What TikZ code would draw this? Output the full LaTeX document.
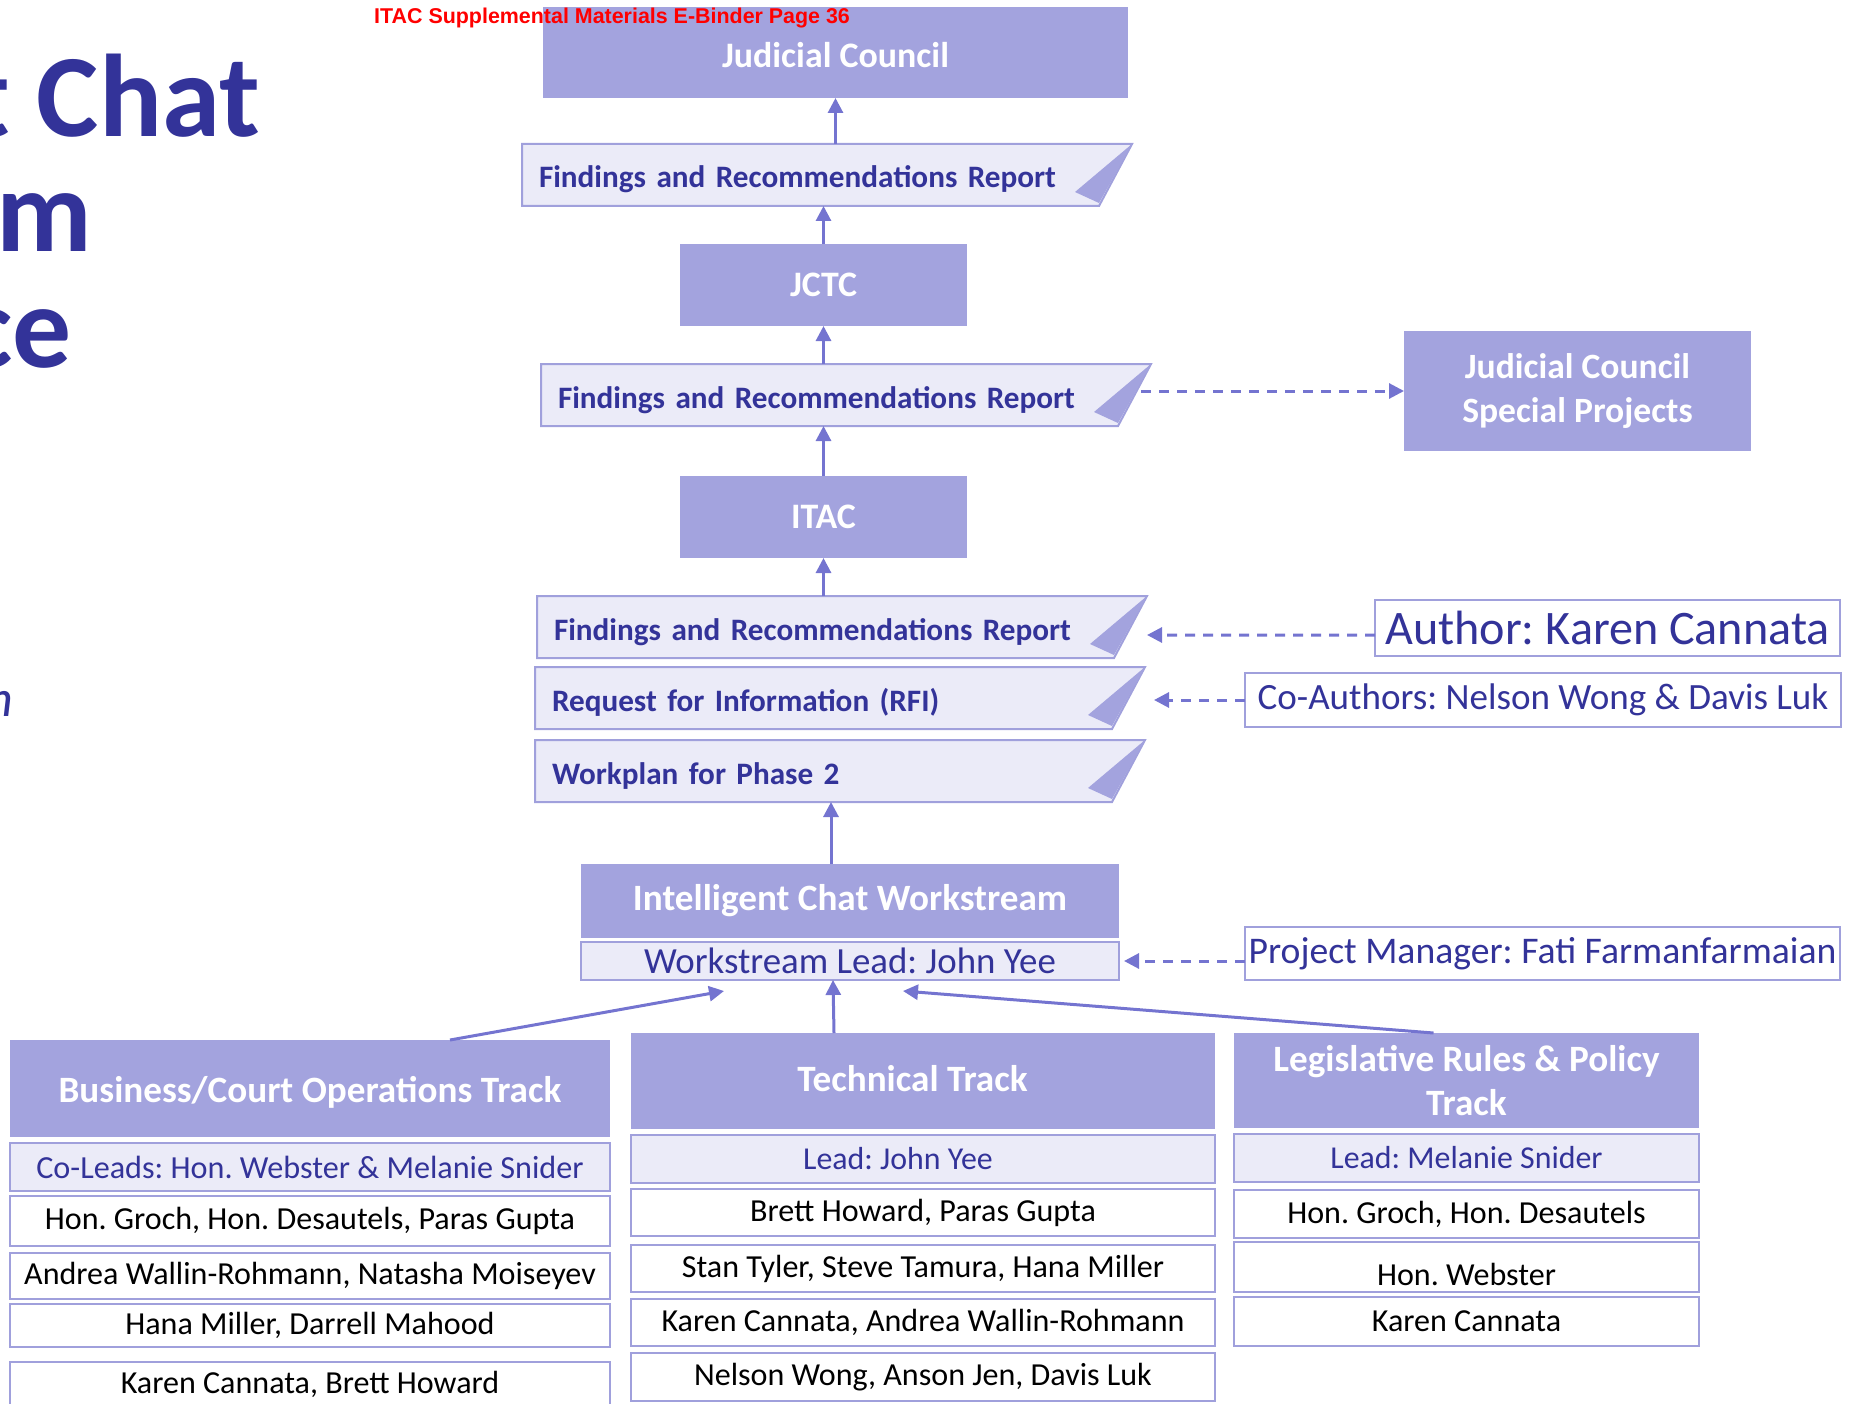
\documentclass[tikz,border=0pt]{standalone}
\usepackage{fontspec}
\setmainfont{Carlito}
\newfontfamily\stampfont{Liberation Sans}
\usetikzlibrary{arrows.meta, positioning, backgrounds}
\frenchspacing

\definecolor{headfill}{HTML}{A3A3DE}
\definecolor{lightfill}{HTML}{EBEBF8}
\definecolor{boxline}{HTML}{A0A0DC}
\definecolor{arrowline}{HTML}{7474D0}
\definecolor{navy}{HTML}{333399}

\tikzset{
  boxsize/.style 2 args = {minimum width = #1bp, minimum height = #2bp},
  header/.style = {rectangle, fill = headfill, text = white, inner sep = 0pt, outer sep = 0pt, anchor = north west, align = center, font = \bfseries\fontsize{36}{43}\selectfont},
  bigheader/.style = {header, font = \bfseries\fontsize{37.3}{45}\selectfont},
  report/.style = {rectangle, inner xsep = 17bp, inner ysep = 0pt, outer sep = 0pt, anchor = north west, minimum width = 577bp, minimum height = 62bp, text width = 543bp, text height = 26bp, text depth = 0bp, align = left, text = navy, font = \bfseries\fontsize{31.3}{37}\selectfont},
  leadbox/.style = {rectangle, draw = boxline, line width = 2.5bp, fill = lightfill, text = navy, inner sep = 0pt, outer sep = 0pt, anchor = north west, font = \fontsize{32}{38}\selectfont},
  member/.style = {rectangle, draw = boxline, line width = 2.5bp, fill = white, text = black, inner sep = 0pt, outer sep = 0pt, anchor = north west, font = \fontsize{32.2}{38}\selectfont},
  note/.style = {leadbox, fill = white},
  title/.style = {anchor = base east, inner sep = 0pt, text = navy, font = \bfseries\fontsize{118}{124}\selectfont},
  arrow/.style = {line width = 3bp, draw = arrowline, -{Triangle[length = 15bp, width = 15bp]}},
  dasharrow/.style = {arrow, dash pattern = on 10bp off 8bp},
}

\begin{document}
\begin{tikzpicture}[x = 1bp, y = -1bp]
    \useasboundingbox (0,0) rectangle (1858,1404);

    % slide title, cut at the left edge
    \node (title1)[title] at (260,137) {t Chat};
    \node (title2)[title] at (92,252) {m};
    \node (title3)[title] at (72,368) {ce};
    \node (subtitle)[anchor = base east, inner sep = 0pt, text = navy, font = \itshape\fontsize{52}{60}\selectfont] at (13,716) {h};

    % reporting chain
    \node (jc)[header, boxsize = {585}{91}, text height = 30bp] at (543,7) {Judicial Council};
    \node (rep1)[report] at (522,144) {Findings and Recommendations Report};
    \node (jctc)[header, boxsize = {287}{82}] at (680,244) {JCTC};
    \node (rep2)[report] at (541,364) {Findings and Recommendations Report};
    \node (itac)[header, boxsize = {287}{82}] at (680,476) {ITAC};
    \node (rep3)[report] at (537,596) {Findings and Recommendations Report};
    \node (rfi)[report] at (535,667) {Request for Information (RFI)};
    \node (plan)[report] at (535,740) {Workplan for Phase 2};
    \node (ws)[bigheader, boxsize = {538}{74}] at (581,864) {Intelligent Chat Workstream};
    \node (wslead)[leadbox, boxsize = {538}{38}, font = \fontsize{37}{42}\selectfont] at (581,942) {Workstream Lead: John Yee};

    % side boxes
    \node (jcsp)[header, boxsize = {347}{120}, font = \bfseries\fontsize{35.7}{44}\selectfont] at (1404,331) {Judicial Council\\Special Projects};
    \node (author)[note, boxsize = {465}{56}, font = \fontsize{48.3}{54}\selectfont] at (1375,600) {Author: Karen Cannata};
    \node (coauth)[note, boxsize = {596}{54}, font = \fontsize{37.2}{43}\selectfont] at (1245,673) {Co-Authors: Nelson Wong \& Davis Luk};
    \node (pm)[note, boxsize = {595}{53}, font = \fontsize{37.8}{43}\selectfont] at (1245,927) {Project Manager: Fati Farmanfarmaian};

    % business track
    \node (bus)[bigheader, boxsize = {600}{97}, text height = 34bp] at (10,1040) {Business/Court Operations Track};
    \node (buslead)[leadbox, boxsize = {600}{48}, font = \fontsize{32.3}{38}\selectfont, below = 6bp of bus.south west, anchor = north west] {Co-Leads: Hon. Webster \& Melanie Snider};
    \node (bus1)[member, boxsize = {600}{50}, below = 5bp of buslead.south west, anchor = north west] {Hon. Groch, Hon. Desautels, Paras Gupta};
    \node (bus2)[member, boxsize = {600}{46}, below = 7bp of bus1.south west, anchor = north west] {Andrea Wallin-Rohmann, Natasha Moiseyev};
    \node (bus3)[member, boxsize = {600}{43}, below = 5bp of bus2.south west, anchor = north west] {Hana Miller, Darrell Mahood};
    \node (bus4)[member, boxsize = {600}{44}, below = 15bp of bus3.south west, anchor = north west] {Karen Cannata, Brett Howard};

    % technical track
    \node (tech)[bigheader, boxsize = {584}{96}, text depth = 5bp] at (631,1033) {Technical Track\hspace*{21bp}};
    \node (techlead)[leadbox, boxsize = {584}{48}, below = 6bp of tech.south west, anchor = north west] {Lead: John Yee\hspace*{50bp}};
    \node (tech1)[member, boxsize = {584}{47}, below = 6bp of techlead.south west, anchor = north west] {Brett Howard, Paras Gupta};
    \node (tech2)[member, boxsize = {584}{47}, below = 9bp of tech1.south west, anchor = north west] {Stan Tyler, Steve Tamura, Hana Miller};
    \node (tech3)[member, boxsize = {584}{47}, below = 7bp of tech2.south west, anchor = north west] {Karen Cannata, Andrea Wallin-Rohmann};
    \node (tech4)[member, boxsize = {584}{48}, below = 7bp of tech3.south west, anchor = north west] {Nelson Wong, Anson Jen, Davis Luk};

    % legislative track
    \node (legis)[bigheader, boxsize = {465}{95}] at (1234,1033) {Legislative Rules \& Policy\\Track};
    \node (legislead)[leadbox, boxsize = {465}{48}, below = 6bp of legis.south west, anchor = north west] {Lead: Melanie Snider};
    \node (legis1)[member, boxsize = {465}{48}, below = 8bp of legislead.south west, anchor = north west] {Hon. Groch, Hon. Desautels};
    \node (legis2)[member, boxsize = {465}{50}, text height = 36bp, text depth = 0bp, below = 4bp of legis1.south west, anchor = north west] {Hon. Webster};
    \node (legis3)[member, boxsize = {465}{49}, below = 5bp of legis2.south west, anchor = north west] {Karen Cannata};

    % report sheets behind their labels
    \begin{scope}[on background layer]
        \foreach \n in {rep1, rep2, rep3, rfi, plan}{
            \filldraw[draw = boxline, fill = lightfill, line width = 2bp] (\n.north west) -- ([xshift = 33bp]\n.north east) -- (\n.south east) -- (\n.south west) -- cycle;
            \fill[headfill] ([xshift = 33bp]\n.north east) -- ([shift = {(-24bp,14bp)}]\n.south east) -- ([yshift = 3bp]\n.south east) -- cycle;
        }
    \end{scope}

    \draw[arrow](rep1.north -| jc.south)--(jc.south);
    \draw[arrow](jctc.north)--(jctc.north |- rep1.south);
    \draw[arrow](rep2.north -| jctc.south)--(jctc.south);
    \draw[arrow](itac.north)--(itac.north |- rep2.south);
    \draw[arrow](rep3.north -| itac.south)--(itac.south);
    \draw[arrow]([xshift = -19bp]ws.north)--([xshift = -19bp]ws.north |- plan.south);
    \draw[arrow]([xshift = 140bp]bus.north)--([shift = {(-126bp,-11bp)}]wslead.south);
    \draw[arrow]([xshift = -89bp]tech.north)--([xshift = -17bp]wslead.south);
    \draw[arrow]([xshift = -33bp]legis.north)--([shift = {(53bp,-11bp)}]wslead.south);

    \draw[dasharrow]([xshift = 23bp]rep2.east |- jcsp.west)--(jcsp.west);
    \draw[dasharrow]([yshift = -7bp]author.west)--([shift = {(33bp,-8bp)}]rep3.east);
    \draw[dasharrow](coauth.west)--([xshift = 42bp]rfi.east |- coauth.west);
    \draw[dasharrow](pm.west |- wslead.east)--([xshift = 5bp]wslead.east);

    % page stamp on top
    \node (stamp)[anchor = base west, inner sep = 0pt, text = red, font = \stampfont\bfseries\fontsize{21.5}{25}\selectfont] at (374,24) {ITAC Supplemental Materials E-Binder Page 36};
\end{tikzpicture}
\end{document}
